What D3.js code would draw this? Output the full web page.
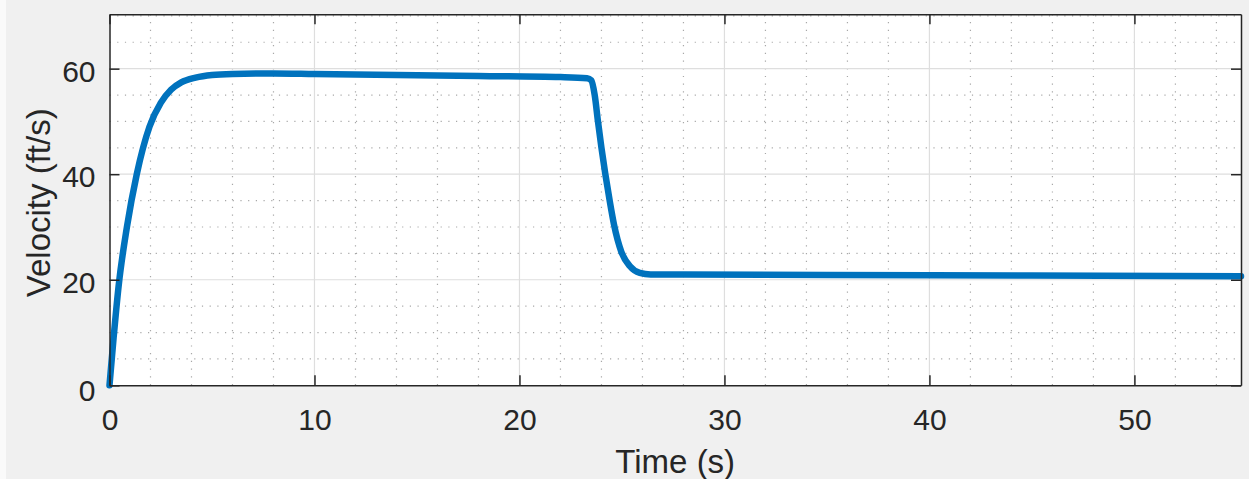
<!DOCTYPE html>
<html>
<head>
<meta charset="utf-8">
<script src="https://cdn.jsdelivr.net/npm/d3@7"></script>
<style>
  body { margin: 0; background: #f0f0f0; }
  svg { display: block; }
</style>
</head>
<body>
<div id="chart"></div>
<script>
// velocity trace (time in s, velocity in ft/s)
var timeData = [0, 0.2, 0.45, 0.85, 1.33, 1.95, 2.5, 3, 3.5, 4.2, 5, 6, 8, 10, 14, 18, 22, 23.3,
  23.5, 23.67, 23.83, 24.0, 24.19, 24.4, 24.61, 24.97, 25.38, 25.87, 26.4, 28, 35, 45, 55.2];
var velocityData = [0, 9, 19, 30, 40, 49, 53.5, 56, 57.4, 58.3, 58.8, 59.0, 59.1, 59.0, 58.8, 58.6, 58.4, 58.2,
  57.8, 55, 50, 45, 40, 35, 30.5, 25.3, 22.6, 21.3, 21.0, 21.0, 20.9, 20.8, 20.65];

var xTicks = [0, 10, 20, 30, 40, 50];
var yTicks = [0, 20, 40, 60];
var xMinor = d3.range(2, 56, 2).filter(function (d) { return d % 10 !== 0; });
var yMinor = d3.range(5, 71, 5).filter(function (d) { return d % 20 !== 0; });

var width = 1249, height = 479;
var plotLeft = 109.5, plotRight = 1241, plotTop = 14.3, plotBottom = 385.3;

var svg = d3.select("#chart").append("svg")
    .attr("width", width)
    .attr("height", height);

// figure background
svg.append("rect").attr("width", width).attr("height", height).attr("fill", "#f0f0f0");
svg.append("rect").attr("width", 6).attr("height", height).attr("fill", "#fafafa");

var x = d3.scaleLinear().domain([0, 55.2]).range([plotLeft, plotRight]);
var y = d3.scaleLinear().domain([0, 70.3]).range([plotBottom, plotTop]);

// axes area
svg.append("rect")
    .attr("x", plotLeft).attr("y", plotTop)
    .attr("width", plotRight - plotLeft).attr("height", plotBottom - plotTop)
    .attr("fill", "#ffffff");

// minor grid (dotted)
svg.append("g").selectAll("line").data(xMinor).enter().append("line")
    .attr("x1", function (d) { return x(d); }).attr("x2", function (d) { return x(d); })
    .attr("y1", plotTop).attr("y2", plotBottom)
    .attr("stroke", "#a8a8a8").attr("stroke-width", 1.2).attr("stroke-dasharray", "1.2,6.5");
svg.append("g").selectAll("line").data(yMinor).enter().append("line")
    .attr("y1", function (d) { return y(d); }).attr("y2", function (d) { return y(d); })
    .attr("x1", plotLeft).attr("x2", plotRight)
    .attr("stroke", "#a8a8a8").attr("stroke-width", 1.2).attr("stroke-dasharray", "1.2,6.5");

// major grid
svg.append("g").selectAll("line").data(xTicks.slice(1)).enter().append("line")
    .attr("x1", function (d) { return x(d); }).attr("x2", function (d) { return x(d); })
    .attr("y1", plotTop).attr("y2", plotBottom)
    .attr("stroke", "#dedede").attr("stroke-width", 1.2);
svg.append("g").selectAll("line").data(yTicks.slice(1)).enter().append("line")
    .attr("y1", function (d) { return y(d); }).attr("y2", function (d) { return y(d); })
    .attr("x1", plotLeft).attr("x2", plotRight)
    .attr("stroke", "#dedede").attr("stroke-width", 1.2);

// the velocity line
var line = d3.line()
    .x(function (d, i) { return x(timeData[i]); })
    .y(function (d) { return y(d); })
    .curve(d3.curveMonotoneX);

svg.append("path")
    .datum(velocityData)
    .attr("d", line)
    .attr("fill", "none")
    .attr("stroke", "#0072bd")
    .attr("stroke-width", 6.5)
    .attr("stroke-linejoin", "round")
    .attr("stroke-linecap", "round");

// axes, ticks pointing inward like matlab
var fontFamily = "'Liberation Sans', Arial, Helvetica, sans-serif";

var xAxis = svg.append("g")
    .attr("transform", "translate(0," + plotBottom + ")")
    .call(d3.axisBottom(x).tickValues(xTicks).tickSizeInner(-10).tickSizeOuter(0).tickPadding(23));
var yAxis = svg.append("g")
    .attr("transform", "translate(" + plotLeft + ",0)")
    .call(d3.axisLeft(y).tickValues(yTicks).tickSizeInner(-10).tickSizeOuter(0).tickPadding(14));
var xTop = svg.append("g")
    .attr("transform", "translate(0," + plotTop + ")")
    .call(d3.axisTop(x).tickValues(xTicks).tickSizeInner(-10).tickSizeOuter(0).tickFormat(""));
var yRight = svg.append("g")
    .attr("transform", "translate(" + plotRight + ",0)")
    .call(d3.axisRight(y).tickValues(yTicks).tickSizeInner(-10).tickSizeOuter(0).tickFormat(""));

[xAxis, yAxis, xTop, yRight].forEach(function (g) {
    g.select(".domain").attr("stroke", "#262626").attr("stroke-width", 1.5);
    g.selectAll(".tick line").attr("stroke", "#262626").attr("stroke-width", 1.5);
    g.selectAll(".tick text")
        .attr("fill", "#262626")
        .style("font-family", fontFamily)
        .style("font-size", "30px");
});
yAxis.selectAll(".tick text").attr("dy", function (d) { return d === 0 ? "0.52em" : "0.42em"; });

// axis labels
svg.append("text")
    .attr("x", (plotLeft + plotRight) / 2)
    .attr("y", 473)
    .attr("text-anchor", "middle")
    .attr("fill", "#262626")
    .style("font-family", fontFamily)
    .style("font-size", "33px")
    .text("Time (s)");

svg.append("text")
    .attr("transform", "translate(50," + ((plotTop + plotBottom) / 2 + 3) + ") rotate(-90)")
    .attr("text-anchor", "middle")
    .attr("fill", "#262626")
    .style("font-family", fontFamily)
    .style("font-size", "33px")
    .text("Velocity (ft/s)");
</script>
</body>
</html>
